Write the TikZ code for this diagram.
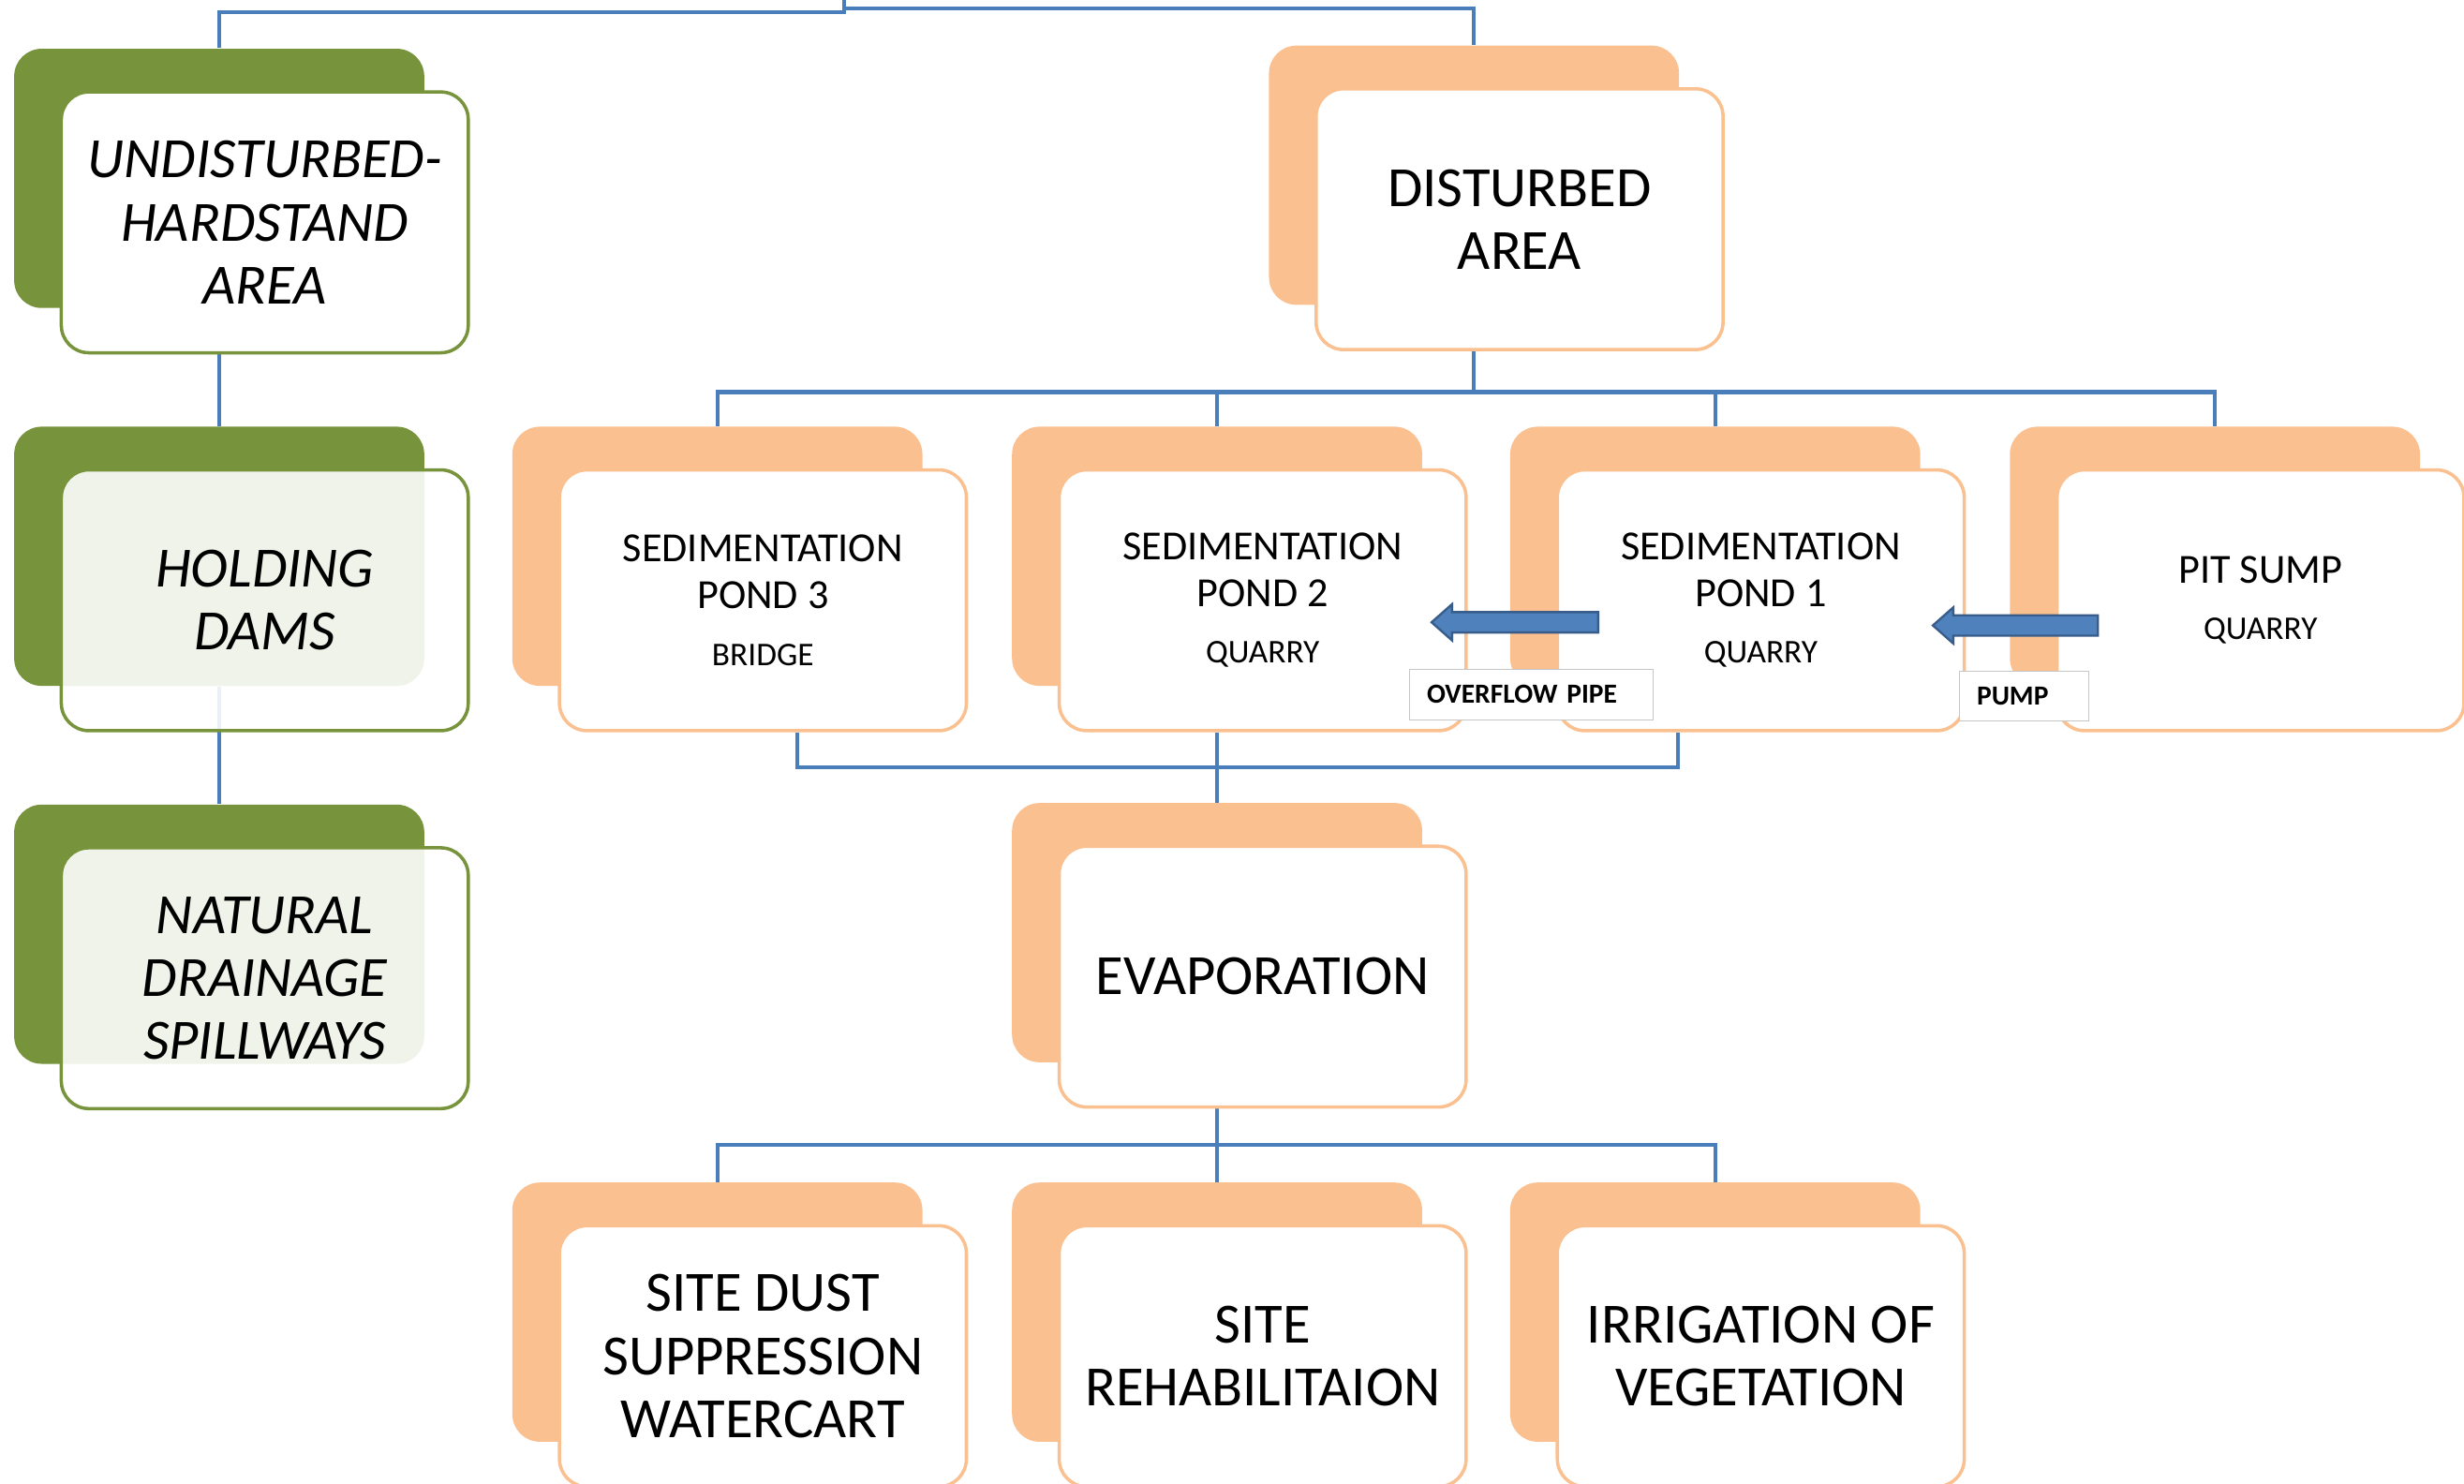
\documentclass[tikz,border=0pt]{standalone}
\usepackage{fontspec}
\setmainfont{Carlito}
\usepackage{xcolor}
\usetikzlibrary{backgrounds}
\definecolor{olive}{RGB}{119, 147, 60}
\definecolor{peach}{RGB}{250, 192, 144}
\definecolor{linkblue}{RGB}{74, 126, 187}
\definecolor{arrowblue}{RGB}{79, 129, 189}
\definecolor{arrowedge}{RGB}{56, 93, 138}
\newcommand{\bigtext}{\fontsize{20.6}{22.8}\selectfont}
\newcommand{\pondtext}{\fontsize{15}{17}\selectfont}
\newcommand{\subtext}{\fontsize{12}{14}\selectfont}
\newcommand{\tagtext}{\fontsize{10}{11}\selectfont\bfseries}

\begin{document}
\begin{tikzpicture}[x=0.02cm, y=-0.02cm,
    shadebox/.style={rectangle, rounded corners=0.35cm, minimum width=5.22cm, minimum height=3.3cm, inner sep=0pt},
    greenshade/.style={shadebox, fill=olive},
    orangeshade/.style={shadebox, fill=peach},
    frontbox/.style={rectangle, rounded corners=0.35cm, minimum width=5.18cm, minimum height=3.32cm, fill=white, line width=1.2pt, align=center, inner sep=2pt},
    greenbox/.style={frontbox, draw=olive, font=\bigtext\itshape},
    orangebox/.style={frontbox, draw=peach, font=\bigtext},
    pondbox/.style={frontbox, draw=peach, font=\pondtext},
    tagbox/.style={rectangle, draw=gray!45, fill=white, minimum height=0.64cm, inner xsep=0.22cm, inner ysep=0pt, align=left, font=\tagtext},
    flowline/.style={draw=linkblue, line width=1.4pt},
    blockarrow/.style={fill=arrowblue, draw=arrowedge, line width=0.8pt},
    front/.style={xshift=0.58cm, yshift=-0.56cm}]
    \useasboundingbox (0,0) rectangle (1568,944);

    % Green column
    \node[greenshade] (g1s) at (139.5,113.5) {};
    \node[greenbox] (g1) at ([front]g1s.center) {UNDISTURBED-\\HARDSTAND\\AREA};
    \node[greenshade] (g2s) at (139.5,354) {};
    \node[greenbox, fill opacity=0.89, text opacity=1] (g2) at ([front]g2s.center) {HOLDING\\DAMS};
    \node[greenshade] (g3s) at (139.5,594.5) {};
    \node[greenbox, fill opacity=0.89, text opacity=1] (g3) at ([front]g3s.center) {NATURAL\\DRAINAGE\\SPILLWAYS};

    % Disturbed area
    \node[orangeshade] (dists) at (938,111.5) {};
    \node[orangebox] (dist) at ([front]dists.center) {DISTURBED\\AREA};

    % Ponds and sump
    \node[orangeshade] (pond3s) at (456.5,354) {};
    \node[pondbox] (pond3) at ([front]pond3s.center) {SEDIMENTATION\\POND 3\\[3.5pt]{\subtext BRIDGE}};
    \node[orangeshade] (pond2s) at (774.5,354) {};
    \node[pondbox] (pond2) at ([front]pond2s.center) {SEDIMENTATION\\POND 2\\[3.5pt]{\subtext QUARRY}};
    \node[orangeshade] (pond1s) at (1091.5,354) {};
    \node[pondbox] (pond1) at ([front]pond1s.center) {SEDIMENTATION\\POND 1\\[3.5pt]{\subtext QUARRY}};
    \node[orangeshade] (pits) at (1409.5,354) {};
    \node[pondbox] (pit) at ([front]pits.center) {PIT SUMP\\[3.5pt]{\subtext QUARRY}};

    % Evaporation
    \node[orangeshade] (evaps) at (774.5,593.5) {};
    \node[orangebox] (evap) at ([front]evaps.center) {EVAPORATION};

    % Uses
    \node[orangeshade] (dusts) at (456.5,835) {};
    \node[orangebox] (dust) at ([front]dusts.center) {SITE DUST\\SUPPRESSION\\WATERCART};
    \node[orangeshade] (rehabs) at (774.5,835) {};
    \node[orangebox] (rehab) at ([front]rehabs.center) {SITE\\REHABILITAION};
    \node[orangeshade] (irrigs) at (1091.5,835) {};
    \node[orangebox] (irrig) at ([front]irrigs.center) {IRRIGATION OF\\VEGETATION};

    % Block arrows
    \foreach \tail/\tip/\ay in {1017/911/396, 1335/1230/398} {
        \draw[blockarrow] (\tail,\ay-6.5) -- (\tip+13,\ay-6.5) -- (\tip+13,\ay-11.5) -- (\tip,\ay)
            -- (\tip+13,\ay+11.5) -- (\tip+13,\ay+6.5) -- (\tail,\ay+6.5) -- cycle;
      }
    \node[tagbox, text width=2.66cm] (overflow) at (974.5,442) {OVERFLOW PIPE};
    \node[tagbox, text width=1.2cm] (pump) at (1288,443) {PUMP};

    % Connectors
    \begin{pgfonlayer}{background}
      \coordinate (top) at (537,0);
      \draw[flowline] (top) -- ++(0,7.5) -| (g1s.north);
      \draw[flowline] (top) -- ++(0,5.5) -| (dists.north);
      \draw[flowline] (g1.south -| g1s.north) -- (g2s.north);
      \draw[flowline] (g2s.south) -- (g3s.north);
      \draw[flowline] (dist.south -| dists.north) -- ++(0,26) coordinate (dfork);
      \foreach \n in {pond3s,pond2s,pond1s,pits} {
          \draw[flowline] (dfork) -| (\n.north);
        }
      \draw[flowline] ([xshift=0.44cm]pond3.south) -- ++(0,22) -| ([xshift=-1.05cm]pond1.south);
      \draw[flowline] (pond2.south -| pond2s.north) -- (evaps.north);
      \draw[flowline] (evap.south -| evaps.north) -- ++(0,23) coordinate (efork);
      \foreach \n in {dusts,rehabs,irrigs} {
          \draw[flowline] (efork) -| (\n.north);
        }
    \end{pgfonlayer}
  \end{tikzpicture}
\end{document}
